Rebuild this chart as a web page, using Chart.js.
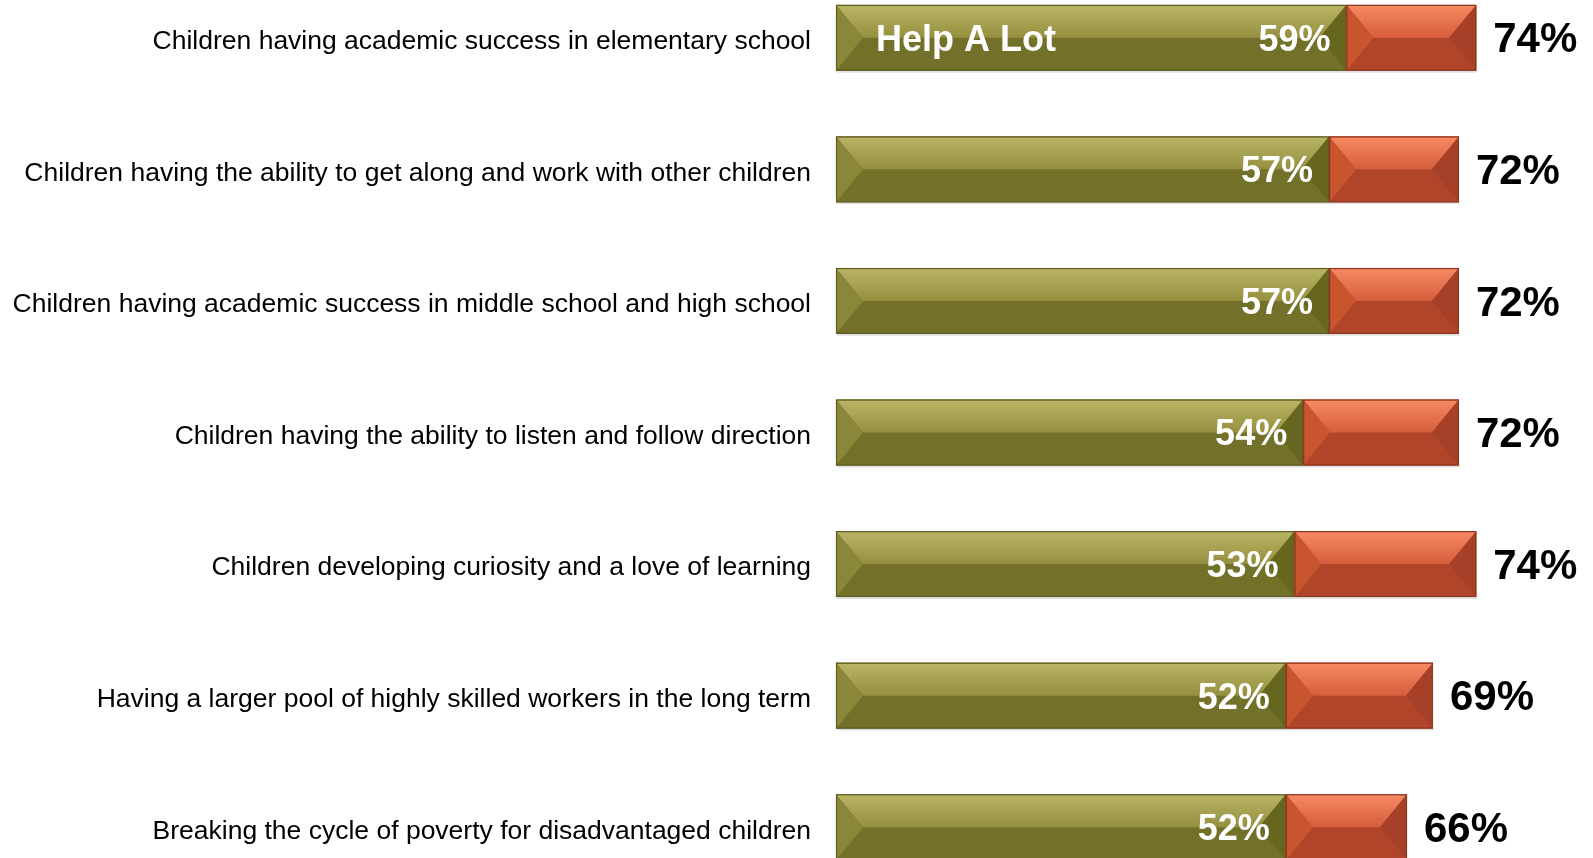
<!DOCTYPE html>
<html>
<head>
<meta charset="utf-8">
<script src="https://cdn.jsdelivr.net/npm/chart.js@4/dist/chart.umd.min.js"></script>
<style>
  html, body { margin:0; padding:0; background:#fff; overflow:hidden; width:1593px; height:858px; }
  #wrap { position:absolute; left:0; top:-28px; width:1593px; height:921px; }
</style>
</head>
<body>
<div id="wrap"><canvas id="c" width="1593" height="921"></canvas></div>
<script>
const categories = [
  "Children having academic success in elementary school",
  "Children having the ability to get along and work with other children",
  "Children having academic success in middle school and high school",
  "Children having the ability to listen and follow direction",
  "Children developing curiosity and a love of learning",
  "Having a larger pool of highly skilled workers in the long term",
  "Breaking the cycle of poverty for disadvantaged children"
];
const helpALot = [59, 57, 57, 54, 53, 52, 52];
const helpSome = [15, 15, 15, 18, 21, 17, 14];
const seriesNames = ["Help A Lot", "Help Some"];

const palettes = [
  { top: '#bab666', mid: '#958f3f', bottom: '#727029', left: '#8a8738', right: '#67661f', line: '#5e5c22' },
  { top: '#f78a63', mid: '#d65d3c', bottom: '#b1452a', left: '#c9552f', right: '#a64028', line: '#8e3620' }
];

const FONT = '"Liberation Sans", Arial, Helvetica, sans-serif';

const bevelPlugin = {
  id: 'bevel',
  afterDatasetsDraw(chart) {
    const ctx = chart.ctx;
    chart.data.datasets.forEach((ds, di) => {
      const meta = chart.getDatasetMeta(di);
      const p = palettes[di];
      meta.data.forEach((el) => {
        const { x, y, base, height } = el.getProps(['x', 'y', 'base', 'height'], true);
        const l = Math.min(base, x), r = Math.max(base, x);
        const t = y - height / 2, b = y + height / 2, m = y;
        const dx = Math.min(27, (r - l) / 2);
        ctx.save();
        // faint shadow under bar
        ctx.fillStyle = 'rgba(0,0,0,0.12)';
        ctx.fillRect(l + 1, b, r - l, 2);
        ctx.fillStyle = p.bottom;
        ctx.fillRect(l, t, r - l, b - t);
        const g = ctx.createLinearGradient(0, t, 0, m);
        g.addColorStop(0, p.top);
        g.addColorStop(1, p.mid);
        ctx.fillStyle = g;
        ctx.beginPath();
        ctx.moveTo(l, t); ctx.lineTo(r, t); ctx.lineTo(r - dx, m); ctx.lineTo(l + dx, m); ctx.closePath();
        ctx.fill();
        ctx.fillStyle = p.left;
        ctx.beginPath();
        ctx.moveTo(l, t); ctx.lineTo(l + dx, m); ctx.lineTo(l, b); ctx.closePath();
        ctx.fill();
        ctx.fillStyle = p.right;
        ctx.beginPath();
        ctx.moveTo(r, t); ctx.lineTo(r - dx, m); ctx.lineTo(r, b); ctx.closePath();
        ctx.fill();
        ctx.strokeStyle = p.line;
        ctx.lineWidth = 1.2;
        ctx.strokeRect(l + 0.5, t + 0.5, r - l - 1, b - t - 1);
        ctx.restore();
      });
    });
  }
};

const labelPlugin = {
  id: 'labels',
  afterDatasetsDraw(chart) {
    const ctx = chart.ctx;
    const m0 = chart.getDatasetMeta(0);
    const m1 = chart.getDatasetMeta(1);
    ctx.save();
    ctx.textBaseline = 'middle';
    m0.data.forEach((el, i) => {
      const { x, y, base } = el.getProps(['x', 'y', 'base'], true);
      ctx.fillStyle = '#ffffff';
      ctx.font = 'bold 36px ' + FONT;
      ctx.textAlign = 'right';
      ctx.fillText(helpALot[i] + '%', x - 16, y + 3);
      if (i === 0) {
        ctx.textAlign = 'left';
        ctx.fillText(seriesNames[0], base + 40, y + 3);
      }
      const e1 = m1.data[i].getProps(['x', 'y'], true);
      ctx.fillStyle = '#000000';
      ctx.font = 'bold 42px ' + FONT;
      ctx.textAlign = 'left';
      ctx.fillText((helpALot[i] + helpSome[i]) + '%', e1.x + 17, e1.y + 3);
    });
    ctx.restore();
  }
};

new Chart(document.getElementById('c'), {
  type: 'bar',
  data: {
    labels: categories,
    datasets: [
      { label: seriesNames[0], data: helpALot, backgroundColor: palettes[0].bottom, borderWidth: 0 },
      { label: seriesNames[1], data: helpSome, backgroundColor: palettes[1].bottom, borderWidth: 0 }
    ]
  },
  options: {
    indexAxis: 'y',
    responsive: false,
    animation: false,
    devicePixelRatio: 1,
    layout: { padding: 0 },
    datasets: { bar: { categoryPercentage: 1.0, barPercentage: 0.5 } },
    plugins: { legend: { display: false }, tooltip: { enabled: false } },
    scales: {
      x: { stacked: true, min: 0, max: 87.5, display: false },
      y: {
        stacked: true,
        grid: { display: false, drawTicks: false },
        border: { display: false },
        ticks: { color: '#000', padding: 25, labelOffset: 4, font: { family: FONT, size: 26.5 } },
        afterFit(scale) { scale.width = 836; scale.paddingTop = 0; scale.paddingBottom = 0; }
      }
    }
  },
  plugins: [bevelPlugin, labelPlugin]
});
</script>
</body>
</html>
